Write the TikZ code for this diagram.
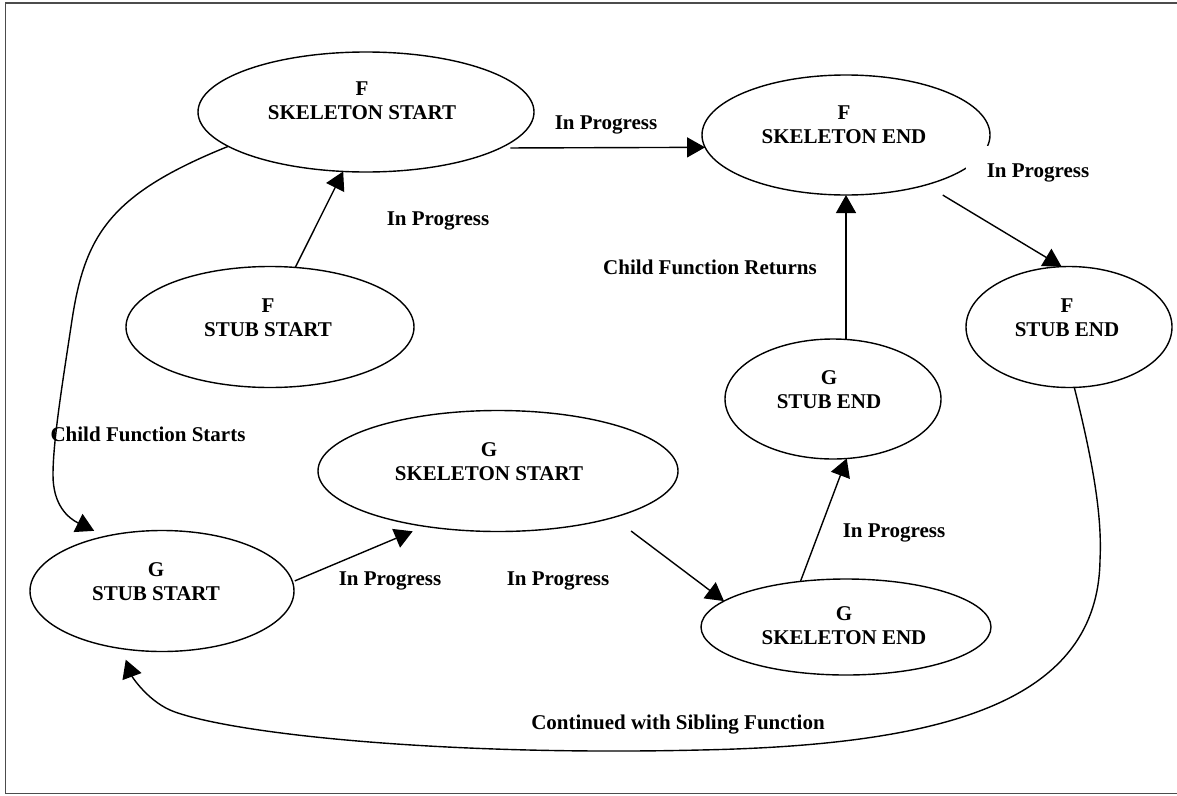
\documentclass[tikz,border=0pt]{standalone}
\usepackage{fontspec}
\setmainfont{Liberation Serif}
\usetikzlibrary{shapes.geometric,arrows.meta}
\begin{document}
\begin{tikzpicture}[x=1pt,y=-1pt,
  ell/.style={draw, ellipse, line width=1.4pt, inner sep=0pt, outer sep=0pt},
  txt/.style={font=\fontsize{21}{24}\selectfont\bfseries, align=center, inner sep=0pt},
  lbl/.style={font=\fontsize{21}{24}\selectfont\bfseries, inner sep=0pt, anchor=base},
  arr/.style={line width=1.4pt, -{Triangle[length=18pt,width=20pt]}},
  frameline/.style={line width=1.8pt, black!70}]
\useasboundingbox (0,0) rectangle (1177,795);
\draw[frameline] (1190,3) -- (5.5,3) -- (5.5,793.5) -- (1190,793.5);

% states
\node[ell, minimum width=336pt, minimum height=120pt] (fks) at (366,112) {};
\node[ell, minimum width=288pt, minimum height=121pt] (fss) at (270,327) {};
\node[ell, minimum width=288pt, minimum height=120pt] (fke) at (846,135) {};
\node[ell, minimum width=206pt, minimum height=121pt] (fse) at (1069,327) {};
\node[ell, minimum width=216pt, minimum height=120pt] (gse) at (833,399) {};
\node[ell, minimum width=360pt, minimum height=121pt] (gks) at (498,471) {};
\node[ell, minimum width=264pt, minimum height=121pt] (gss) at (162,591) {};
\node[ell, minimum width=290pt, minimum height=96pt] (gke) at (846,627) {};

\node[txt] (tfks) at (362,101) {F\\SKELETON START};
\node[txt] (tfss) at (268,317.5) {F\\STUB START};
\node[txt] (tfke) at (844,125) {F\\SKELETON END};
\node[txt] (tfse) at (1067,317.5) {F\\STUB END};
\node[txt] (tgse) at (829,389.5) {G\\STUB END};
\node[txt] (tgks) at (489,462) {G\\SKELETON START};
\node[txt] (tgss) at (156,582) {G\\STUB START};
\node[txt] (tgke) at (844,626) {G\\SKELETON END};

% transitions
\draw[arr] (fss.67.4) -- (fks.-111.5);
\draw[arr, shorten <=10pt] (fks.-15) -- (fke.185);
\draw[arr, shorten <=19.7pt] (fke.-32.2) -- (fse.97.6);
\draw[arr] (fke.south |- gse.north) -- (fke.south);
\draw[arr, shorten >=12.5pt] (fks.194) .. controls (110,194) and (85,235) .. (72,320)
   .. controls (63,380) and (53,440) .. (53,475)
   .. controls (53,505) and (68,518) .. (gss.136);
\draw[arr, shorten <=2.5pt, shorten >=13pt] (gss.4.85) -- (gks.217.2);
\draw[arr, shorten <=22.5pt] (gks.-22.2) -- (gke.168.4);
\draw[arr] (gke.135) -- (gse.-77.3);
\draw[arr, shorten >=11.8pt] (fse.-85) .. controls (1095,470) and (1102,520) .. (1100,560)
   .. controls (1098,700) and (950,745) .. (700,750)
   .. controls (450,756) and (240,735) .. (175,712)
   .. controls (149,703) and (132,676.5) .. (gss.235.1);

% labels
\node[lbl] (l1) at (438,225) {In Progress};
\node[lbl] (l2) at (606,129) {In Progress};
\node[lbl, fill=white, inner xsep=21pt, inner ysep=17pt] (l3) at (1038,177) {In Progress};
\node[lbl] (l4) at (710,274) {Child Function Returns};
\node[lbl] (l5) at (148,441) {Child Function Starts};
\node[lbl] (l6) at (390,585) {In Progress};
\node[lbl] (l7) at (558,585) {In Progress};
\node[lbl] (l8) at (894,537) {In Progress};
\node[lbl] (l9) at (678,729) {Continued with Sibling Function};
\end{tikzpicture}
\end{document}
